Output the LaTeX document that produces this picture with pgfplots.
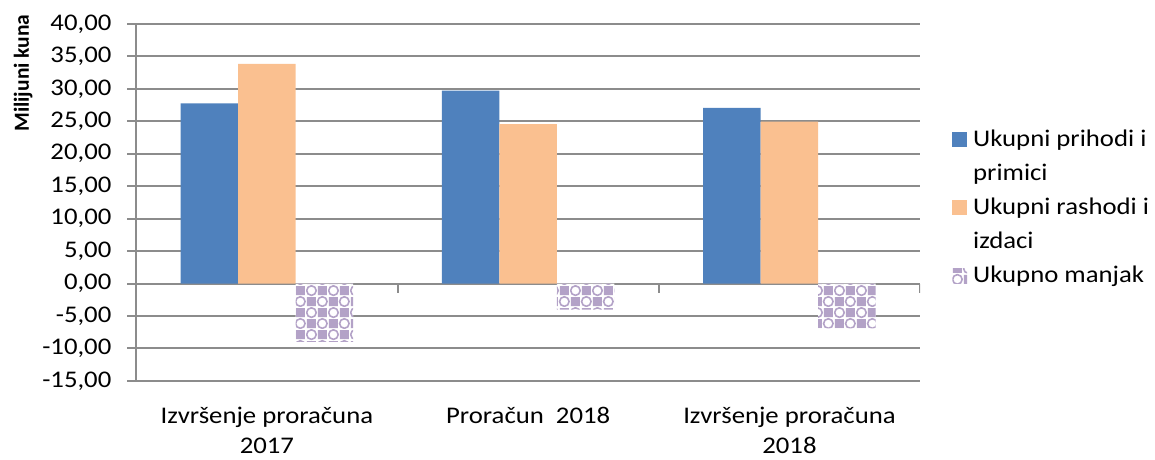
\documentclass[border=0pt]{standalone}
\usepackage{fontspec}
\setmainfont{Carlito}[FakeStretch=1.12]
\newfontfamily\labelfont{Carlito}
\usepackage{pgfplots}
\pgfplotsset{compat=1.18}
\usetikzlibrary{patterns}
\definecolor{cblue}{HTML}{4F81BD}
\definecolor{corange}{HTML}{FAC090}
\definecolor{cpurple}{HTML}{B3A2C7}
\definecolor{cgrid}{HTML}{8C8C8C}
\pgfdeclarepatternformonly{confetti}{\pgfpoint{0pt}{0pt}}{\pgfpoint{11pt}{11pt}}{\pgfpoint{11pt}{11pt}}{
  \pgfpathrectangle{\pgfpoint{0.5pt}{0.5pt}}{\pgfpoint{4.5pt}{4.5pt}}
  \pgfpathrectangle{\pgfpoint{6pt}{6pt}}{\pgfpoint{4.5pt}{4.5pt}}
  \pgfusepath{fill}
  \pgfsetlinewidth{0.8pt}
  \pgfpathcircle{\pgfpoint{8.25pt}{2.75pt}}{2.4pt}
  \pgfpathcircle{\pgfpoint{2.75pt}{8.25pt}}{2.4pt}
  \pgfusepath{stroke}
}
\begin{document}
\begin{tikzpicture}
\begin{axis}[
  scale only axis, width=394pt, height=179.5pt,
  ybar=0pt, bar width=28.9pt,
  xmin=-0.5, xmax=2.5, ymin=-15, ymax=40,
  ytick={-15,-10,-5,0,5,10,15,20,25,30,35,40},
  yticklabels={{-15,00},{-10,00},{-5,00},{0,00},{5,00},{10,00},{15,00},{20,00},{25,00},{30,00},{35,00},{40,00}},
  xtick={0,1,2},
  xticklabels={{Izvršenje proračuna\\2017},{Proračun\ \ 2018},{Izvršenje proračuna\\2018}},
  every tick label/.append style={font=\fontsize{12}{15}\selectfont},
  xticklabel style={align=center, yshift=-5pt},
  major x tick style={draw=none},
  axis y line*=left, axis x line*=bottom,
  axis line style={cgrid, line width=1pt},
  ymajorgrids, grid style={cgrid, line width=1pt},
  major tick length=4.5pt, tick align=outside,
  y tick style={cgrid, line width=1pt},
  yticklabel style={anchor=east, xshift=-4.5pt},
  ylabel={\labelfont\bfseries Milijuni kuna},
  ylabel style={at={([xshift=-52pt]rel axis cs:0,0.862)}, anchor=south, inner sep=0pt, font=\fontsize{10.8}{13}\selectfont},
  legend style={at={(1,0.5)}, anchor=west, xshift=13pt, yshift=-3pt, draw=none, fill=none,
    font=\fontsize{12}{15}\selectfont, row sep=5.1pt, column sep=3pt,
    nodes={text height=9pt, text depth=3pt, inner sep=0pt}},
  legend cell align=left,
  legend image code/.code={\fill[#1] (0pt,-3.5pt) rectangle (7.5pt,4pt);},
]
\addplot[draw=none, fill=cblue] coordinates {(0,27.75) (1,29.7) (2,27.05)};
\addlegendentry{Ukupni prihodi i}
\addlegendimage{empty legend}
\addlegendentry{primici}
\addplot[draw=none, fill=corange] coordinates {(0,33.85) (1,24.55) (2,24.95)};
\addlegendentry{Ukupni rashodi i}
\addlegendimage{empty legend}
\addlegendentry{izdaci}
\addplot[draw=none, preaction={fill=white}, pattern=confetti, pattern color=cpurple] coordinates {(0,-9.0) (1,-4.0) (2,-6.9)};
\addlegendentry{Ukupno manjak}
\draw[cgrid, line width=1pt] (axis cs:0.5,0) -- ([yshift=-4.5pt]axis cs:0.5,0);
\draw[cgrid, line width=1pt] (axis cs:1.5,0) -- ([yshift=-4.5pt]axis cs:1.5,0);
\draw[cgrid, line width=1pt] (axis cs:2.5,0) -- ([yshift=-4.5pt]axis cs:2.5,0);
\end{axis}
\path ([xshift=-68.5pt,yshift=-37.5pt]current axis.south west) rectangle ([xshift=115pt,yshift=12pt]current axis.north east);
\end{tikzpicture}
\end{document}
